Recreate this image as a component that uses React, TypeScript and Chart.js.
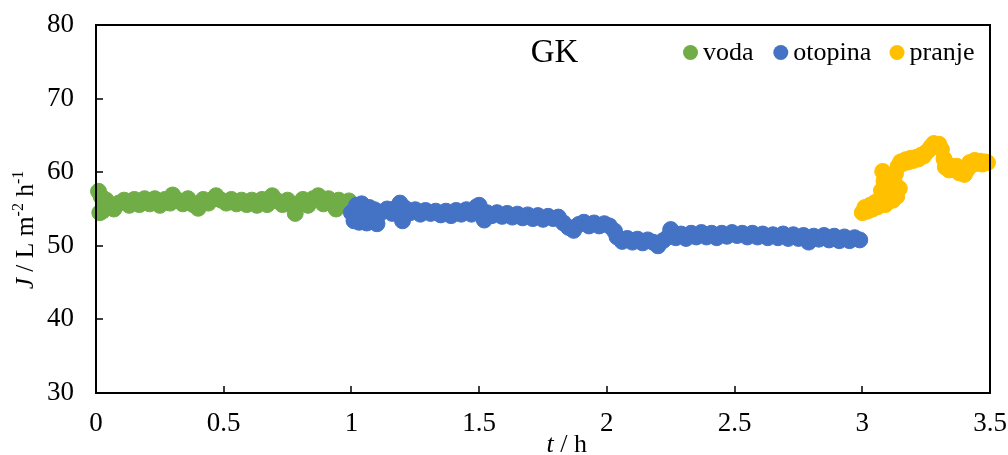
import React, { useEffect, useRef } from 'react';
import { Chart, registerables } from 'chart.js';

Chart.register(...registerables);

const FAMILY = "'Liberation Serif', 'Times New Roman', serif";

// ---- data ----
const vodaT = [
  0.01, 0.015, 0.02, 0.025, 0.03, 0.04, 0.05, 0.07, 0.09, 0.11, 0.13, 0.15, 0.17, 0.19, 0.21, 0.23, 0.25,
  0.27, 0.29, 0.30, 0.32, 0.34, 0.36, 0.38, 0.40, 0.42, 0.44, 0.46, 0.47, 0.49, 0.51, 0.53, 0.55, 0.57,
  0.59, 0.61, 0.63, 0.65, 0.67, 0.69, 0.71, 0.73, 0.75, 0.77, 0.78, 0.79, 0.81, 0.83, 0.85, 0.87, 0.89,
  0.91, 0.93, 0.94, 0.95, 0.97, 0.99,
];
const vodaJ = [
  57.4, 54.5, 56.7, 54.7, 55.8, 56.2, 55.4, 55.0, 55.8, 56.2, 55.5, 56.3, 55.6, 56.4, 55.7, 56.4, 55.5,
  56.3, 55.8, 56.9, 56.2, 55.7, 56.4, 55.6, 55.1, 56.3, 55.8, 56.4, 56.8, 56.2, 55.8, 56.3, 55.7, 56.2,
  55.6, 56.2, 55.5, 56.3, 55.6, 56.8, 56.1, 55.6, 56.2, 55.4, 54.4, 55.6, 56.3, 55.5, 56.4, 56.8, 55.7,
  56.4, 55.6, 55.0, 56.2, 55.7, 56.1,
];

const otopinaT = [
  1.00, 1.01, 1.02, 1.03, 1.04, 1.05, 1.06, 1.07, 1.08, 1.09, 1.10, 1.12, 1.14, 1.16, 1.18, 1.19, 1.20,
  1.21, 1.23, 1.25, 1.27, 1.29, 1.31, 1.33, 1.35, 1.37, 1.39, 1.41, 1.43, 1.45, 1.47, 1.49, 1.50, 1.52,
  1.53, 1.55, 1.57, 1.59, 1.61, 1.63, 1.65, 1.67, 1.69, 1.71, 1.73, 1.75, 1.77, 1.79, 1.81, 1.83, 1.85,
  1.87, 1.89, 1.91, 1.93, 1.95, 1.97, 1.99, 2.01, 2.03, 2.04, 2.06, 2.08, 2.10, 2.12, 2.14, 2.16, 2.18,
  2.20, 2.22, 2.24, 2.25, 2.27, 2.29, 2.31, 2.33, 2.35, 2.37, 2.39, 2.41, 2.43, 2.45, 2.47, 2.49, 2.51,
  2.53, 2.55, 2.57, 2.59, 2.61, 2.63, 2.65, 2.67, 2.69, 2.71, 2.73, 2.75, 2.77, 2.79, 2.81, 2.83, 2.85,
  2.87, 2.89, 2.91, 2.93, 2.95, 2.97, 2.99,
];
const otopinaJ = [
  54.5, 53.4, 55.5, 53.2, 55.7, 54.0, 53.1, 55.2, 53.5, 54.9, 53.0, 54.6, 55.0, 54.4, 55.3, 55.8, 53.4,
  55.1, 54.5, 54.9, 54.3, 54.8, 54.4, 54.7, 54.2, 54.7, 54.1, 54.8, 54.3, 54.9, 54.3, 55.3, 55.5, 53.5,
  54.5, 54.1, 54.5, 54.0, 54.4, 53.9, 54.3, 53.8, 54.2, 53.7, 54.1, 53.6, 54.0, 53.7, 53.9, 53.1, 52.5,
  52.1, 52.9, 53.2, 52.7, 53.1, 52.7, 53.0, 52.7, 52.0, 51.2, 50.6, 51.0, 50.5, 50.9, 50.4, 50.8, 50.5,
  50.0, 50.7, 51.2, 52.2, 51.1, 51.6, 51.0, 51.7, 51.2, 51.8, 51.2, 51.7, 51.1, 51.7, 51.3, 51.8, 51.4,
  51.7, 51.2, 51.7, 51.2, 51.6, 51.1, 51.5, 51.1, 51.6, 51.0, 51.5, 51.0, 51.4, 50.5, 51.3, 50.9, 51.4,
  50.8, 51.3, 50.7, 51.2, 50.7, 51.1, 50.8,
];

const pranjeT = [
  3.00, 3.01, 3.02, 3.03, 3.04, 3.05, 3.06, 3.07, 3.075, 3.08, 3.085, 3.09, 3.095, 3.10, 3.11, 3.12,
  3.125, 3.13, 3.135, 3.14, 3.145, 3.15, 3.16, 3.17, 3.18, 3.19, 3.20, 3.21, 3.22, 3.23, 3.24, 3.25,
  3.26, 3.27, 3.28, 3.29, 3.30, 3.31, 3.32, 3.325, 3.33, 3.34, 3.35, 3.36, 3.37, 3.38, 3.39, 3.40, 3.41,
  3.42, 3.43, 3.44, 3.45, 3.46, 3.47, 3.48, 3.49,
];
const pranjeJ = [
  54.5, 55.2, 54.7, 55.5, 55.0, 55.9, 55.3, 56.2, 57.5, 60.1, 58.8, 55.6, 58.0, 56.6, 57.4, 56.2,
  58.6, 59.8, 56.7, 60.8, 57.8, 61.4, 61.2, 61.7, 61.4, 61.9, 61.6, 62.0, 61.8, 62.3, 62.2, 62.7,
  63.0, 63.5, 63.9, 63.7, 63.8, 63.1, 61.8, 60.7, 61.2, 60.3, 60.8, 60.4, 60.8, 59.9, 60.5, 59.7, 60.3,
  61.3, 61.0, 61.6, 61.2, 61.5, 61.1, 61.4, 61.3,
];

const seriesLabels = ['voda', 'otopina', 'pranje'];
const seriesColors = ['#70AD47', '#4472C4', '#FFC000'];
const xTicks = [0, 0.5, 1, 1.5, 2, 2.5, 3, 3.5];
const yTicks = [30, 40, 50, 60, 70, 80];
const chartTitle = 'GK';

function pairs(t: number[], j: number[]) {
  return t.map((x, i) => ({ x, y: j[i] }));
}

type Seg = { t: string; italic?: boolean; sup?: boolean };

function drawRich(ctx: CanvasRenderingContext2D, segs: Seg[], size: number, supSize: number) {
  const fontFor = (s: Seg) => `${s.italic ? 'italic ' : ''}${s.sup ? supSize : size}px ${FAMILY}`;
  let total = 0;
  for (const s of segs) {
    ctx.font = fontFor(s);
    total += ctx.measureText(s.t).width;
  }
  let x = -total / 2;
  ctx.textAlign = 'left';
  ctx.textBaseline = 'alphabetic';
  for (const s of segs) {
    ctx.font = fontFor(s);
    ctx.fillText(s.t, x, s.sup ? -size * 0.38 : 0);
    x += ctx.measureText(s.t).width;
  }
}

const overlayPlugin = {
  id: 'overlay',
  afterDatasetsDraw(chart: any) {
    const { ctx, chartArea: a, scales } = chart;
    const w = a.right - a.left;
    ctx.save();
    // frame
    ctx.strokeStyle = '#000';
    ctx.lineWidth = 2;
    ctx.strokeRect(a.left, a.top, w, a.bottom - a.top);
    // inward ticks
    ctx.lineWidth = 1.5;
    ctx.beginPath();
    for (const v of xTicks) {
      const px = Math.round(scales.x.getPixelForValue(v));
      ctx.moveTo(px, a.bottom);
      ctx.lineTo(px, a.bottom - 7);
    }
    for (const v of yTicks) {
      const py = Math.round(scales.y.getPixelForValue(v));
      ctx.moveTo(a.left, py);
      ctx.lineTo(a.left + 7, py);
    }
    ctx.stroke();

    ctx.fillStyle = '#000';
    // title inside plot
    ctx.font = `33px ${FAMILY}`;
    ctx.textAlign = 'center';
    ctx.textBaseline = 'alphabetic';
    ctx.fillText(chartTitle, a.left + w * 0.513, a.top + 36.5);

    // legend inside plot (top right)
    const legendY = a.top + 27.5;
    const dotX = [a.left + w * 0.665, a.left + w * 0.766, a.left + w * 0.896];
    ctx.font = `26px ${FAMILY}`;
    ctx.textAlign = 'left';
    chart.data.datasets.forEach((ds: any, i: number) => {
      ctx.fillStyle = ds.backgroundColor;
      ctx.beginPath();
      ctx.arc(dotX[i], legendY, 7.5, 0, Math.PI * 2);
      ctx.fill();
      ctx.fillStyle = '#000';
      ctx.fillText(ds.label, dotX[i] + 12.5, legendY + 7.5);
    });

    // y axis title (rotated)
    ctx.save();
    ctx.translate(33, (a.top + a.bottom) / 2 + 21);
    ctx.rotate(-Math.PI / 2);
    drawRich(
      ctx,
      [
        { t: 'J', italic: true },
        { t: ' / L m' },
        { t: '-2', sup: true },
        { t: ' h' },
        { t: '-1', sup: true },
      ],
      25.5,
      16
    );
    ctx.restore();

    // x axis title
    ctx.save();
    ctx.translate(a.left + w * 0.5265, 452);
    drawRich(ctx, [{ t: 't', italic: true }, { t: ' / h' }], 26, 17);
    ctx.restore();

    ctx.restore();
  },
};

export default function App() {
  const ref = useRef<HTMLCanvasElement>(null);

  useEffect(() => {
    const canvas = ref.current;
    if (!canvas) return;
    const tickFont = { family: FAMILY, size: 27 };
    const data = [pairs(vodaT, vodaJ), pairs(otopinaT, otopinaJ), pairs(pranjeT, pranjeJ)];
    const chart = new Chart(canvas, {
      type: 'scatter',
      data: {
        datasets: data.map((d, i) => ({
          label: seriesLabels[i],
          data: d,
          backgroundColor: seriesColors[i],
          borderColor: seriesColors[i],
          borderWidth: 1,
          pointRadius: 8,
          pointHoverRadius: 8,
          order: 3 - i,
          clip: false as any,
        })),
      },
      options: {
        responsive: false,
        animation: false,
        events: [],
        layout: { padding: { left: 0, right: 18, top: 25, bottom: 0 } },
        scales: {
          x: {
            type: 'linear',
            min: 0,
            max: 3.5,
            grid: { display: false, drawTicks: false },
            border: { display: false },
            afterBuildTicks: (s: any) => {
              s.ticks = xTicks.map((v) => ({ value: v }));
            },
            ticks: {
              font: tickFont,
              color: '#000',
              padding: 15,
              maxRotation: 0,
              autoSkip: false,
              callback: (v: any) => String(v),
            },
            afterFit: (s: any) => {
              s.height = 62;
              s.paddingLeft = 0;
              s.paddingRight = 0;
            },
          },
          y: {
            type: 'linear',
            min: 30,
            max: 80,
            grid: { display: false, drawTicks: false },
            border: { display: false },
            afterBuildTicks: (s: any) => {
              s.ticks = yTicks.map((v) => ({ value: v }));
            },
            ticks: {
              font: tickFont,
              color: '#000',
              padding: 22,
              autoSkip: false,
              callback: (v: any) => String(v),
            },
            afterFit: (s: any) => {
              s.width = 96;
              s.paddingTop = 0;
              s.paddingBottom = 0;
            },
          },
        },
        plugins: {
          legend: { display: false },
          tooltip: { enabled: false },
          title: { display: false },
        },
      },
      plugins: [overlayPlugin],
    });
    return () => chart.destroy();
  }, []);

  return (
    <div style={{ position: 'absolute', left: 0, top: 0, width: 1008, height: 455, background: '#fff' }}>
      <canvas ref={ref} width={1008} height={455} style={{ display: 'block' }} />
    </div>
  );
}
